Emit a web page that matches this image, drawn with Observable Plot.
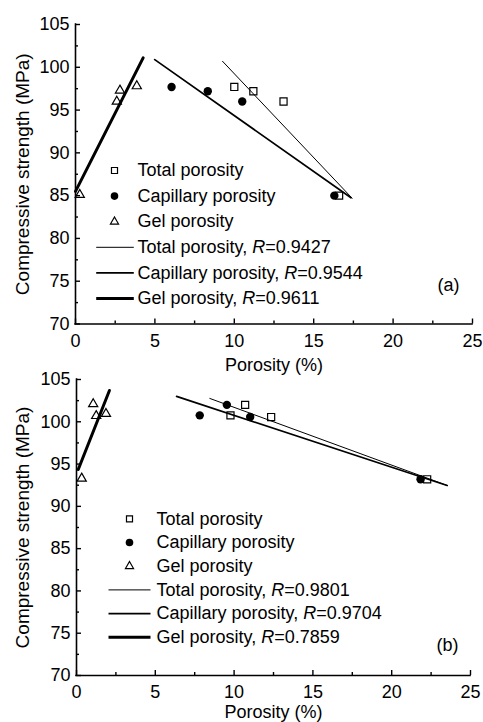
<!DOCTYPE html>
<html><head><meta charset="utf-8">
<script src="https://cdn.jsdelivr.net/npm/d3@7"></script>
<script src="https://cdn.jsdelivr.net/npm/@observablehq/plot@0.6"></script>
<style>
body{margin:0;background:#fff;}
#wrap{position:relative;width:483px;height:722px;overflow:hidden;background:#fff;}
.panel{position:absolute;left:0;width:483px;}
.panel svg{overflow:visible;}
</style></head><body><div id="wrap"></div>
<script>
// ---------- DATA ----------
const xTicks = [0, 5, 10, 15, 20, 25];
const xMinor = [2.5, 7.5, 12.5, 17.5, 22.5];
const yTicks = [70, 75, 80, 85, 90, 95, 100, 105];
const yMinor = [72.5, 77.5, 82.5, 87.5, 92.5, 97.5, 102.5];
const seriesNames = ["Total porosity", "Capillary porosity", "Gel porosity"];
const xLabel = "Porosity (%)";
const yLabel = "Compressive strength (MPa)";

// panel (a)
const aTotalX = [10.0, 11.2, 13.1, 16.6];
const aTotalY = [97.7, 97.2, 96.0, 85.0];
const aCapX = [6.05, 8.33, 10.5, 16.3];
const aCapY = [97.7, 97.2, 96.0, 85.0];
const aGelX = [0.27, 2.6, 2.8, 3.86];
const aGelY = [85.1, 96.0, 97.3, 97.8];
const aFitTotalX = [9.26, 17.42];
const aFitTotalY = [100.7, 84.7];
const aFitCapX = [4.99, 17.35];
const aFitCapY = [100.9, 84.75];
const aFitGelX = [0.0, 4.26];
const aFitGelY = [85.5, 101.1];
const aR = ["0.9427", "0.9544", "0.9611"];

// panel (b)
const bTotalX = [9.77, 10.7, 12.35, 22.25];
const bTotalY = [100.76, 102.0, 100.56, 93.2];
const bCapX = [7.82, 9.54, 11.02, 21.83];
const bCapY = [100.76, 102.0, 100.56, 93.2];
const bGelX = [0.33, 1.06, 1.25, 1.87];
const bGelY = [93.3, 102.1, 100.7, 100.95];
const bFitTotalX = [8.46, 23.52];
const bFitTotalY = [102.76, 92.47];
const bFitCapX = [6.35, 23.52];
const bFitCapY = [103.0, 92.47];
const bFitGelX = [0.11, 2.09];
const bFitGelY = [94.36, 103.7];
const bR = ["0.9801", "0.9704", "0.7859"];

// ---------- DRAWING ----------
const FONT = "'Liberation Sans', Arial, Helvetica, sans-serif";
const FS = 18;
const pts = (xs, ys) => xs.map((x, i) => ({x, y: ys[i]}));
const hline = (half) => ({draw(ctx) { ctx.moveTo(-half, 0); ctx.lineTo(half, 0); }});

function panel(cfg) {
  const W = 483, H = cfg.height;
  const {ml, mr, mt, mb} = cfg;
  const pw = W - ml - mr, ph = H - mt - mb;
  const at = (px, py) => ({frameAnchor: "top-left", dx: px - ml, dy: py - mt});
  const marks = [];
  // axis lines
  marks.push(Plot.ruleX([xTicks[0]], {stroke: "black", strokeWidth: 1.6, strokeLinecap: "square"}));
  marks.push(Plot.ruleY([yTicks[0]], {stroke: "black", strokeWidth: 1.6, strokeLinecap: "square"}));
  // inward ticks
  marks.push(Plot.tickX(xTicks, {x: d => d, insetTop: ph - 5, stroke: "black", strokeWidth: 1.4}));
  marks.push(Plot.tickX(xMinor, {x: d => d, insetTop: ph - 3, stroke: "black", strokeWidth: 1.4}));
  marks.push(Plot.tickY(yTicks, {y: d => d, insetRight: pw - 5, stroke: "black", strokeWidth: 1.4}));
  marks.push(Plot.tickY(yMinor, {y: d => d, insetRight: pw - 3, stroke: "black", strokeWidth: 1.4}));
  // tick labels
  marks.push(Plot.axisX({ticks: xTicks, tickSize: 0, tickPadding: 10, fontSize: FS, label: null, fill: "black"}));
  marks.push(Plot.axisY({ticks: yTicks, tickSize: 0, tickPadding: 6, fontSize: FS, label: null, fill: "black"}));
  // axis titles
  marks.push(Plot.text([xLabel], {frameAnchor: "bottom", dy: cfg.xLabelDy, text: d => d, fontSize: FS, textAnchor: "middle", lineAnchor: "middle", fill: "black"}));
  marks.push(Plot.text([yLabel], {frameAnchor: "left", dx: 22 - ml, rotate: -90, text: d => d, fontSize: 19, textAnchor: "middle", lineAnchor: "middle", fill: "black"}));
  // data points
  marks.push(Plot.dot(pts(cfg.totalX, cfg.totalY), {x: "x", y: "y", symbol: "square", r: 4, fill: "white", stroke: "black", strokeWidth: 1.2}));
  marks.push(Plot.dot(pts(cfg.capX, cfg.capY), {x: "x", y: "y", symbol: "circle", r: 4.2, fill: "black", stroke: "none"}));
  marks.push(Plot.dot(pts(cfg.gelX, cfg.gelY), {x: "x", y: "y", symbol: "triangle", r: 3.4, fill: "none", stroke: "black", strokeWidth: 1.2}));
  // fit lines
  marks.push(Plot.line(pts(cfg.fitTotalX, cfg.fitTotalY), {x: "x", y: "y", stroke: "black", strokeWidth: 1}));
  marks.push(Plot.line(pts(cfg.fitCapX, cfg.fitCapY), {x: "x", y: "y", stroke: "black", strokeWidth: 1.7}));
  marks.push(Plot.line(pts(cfg.fitGelX, cfg.fitGelY), {x: "x", y: "y", stroke: "black", strokeWidth: 3}));
  // legend
  const L = cfg.legend;
  const syms = [
    {symbol: "square", r: 3.4, fill: "white", stroke: "black", strokeWidth: 1.2},
    {symbol: "circle", r: 3.8, fill: "black", stroke: "none"},
    {symbol: "triangle", r: 3.0, fill: "none", stroke: "black", strokeWidth: 1.2}
  ];
  const lw = [1, 1.7, 3];
  seriesNames.forEach((name, i) => {
    marks.push(Plot.dot([0], {...at(L.mx, L.y0 + i * L.step), ...syms[i]}));
    marks.push(Plot.text([name], {...at(L.tx, L.y0 + i * L.step), text: d => d, textAnchor: "start", lineAnchor: "middle", fontSize: FS, fill: "black"}));
  });
  seriesNames.forEach((name, i) => {
    const row = i + 3;
    marks.push(Plot.dot([0], {...at(L.lc, L.y0 + row * L.step), symbol: hline(L.lh), stroke: "black", strokeWidth: lw[i], fill: "none"}));
    marks.push(Plot.text([`${name}, R=${cfg.R[i]}`], {...at(L.tx, L.y0 + row * L.step), text: d => d, textAnchor: "start", lineAnchor: "middle", fontSize: FS, fill: "black"}));
  });
  // panel tag
  marks.push(Plot.text([cfg.tag], {...at(cfg.tagX, cfg.tagY), text: d => d, textAnchor: "middle", lineAnchor: "middle", fontSize: FS, fill: "black"}));

  const svg = Plot.plot({
    width: W, height: H,
    marginLeft: ml, marginRight: mr, marginTop: mt, marginBottom: mb,
    x: {domain: [xTicks[0], xTicks[xTicks.length - 1]], label: null},
    y: {domain: [yTicks[0], yTicks[yTicks.length - 1]], label: null},
    style: {background: "transparent", fontFamily: FONT, fontSize: FS + "px", color: "black", overflow: "visible"},
    marks
  });
  // italic R in the regression legend entries
  svg.querySelectorAll("text").forEach(t => {
    const m = /^(.*), R=(.*)$/.exec(t.textContent);
    if (!m || t.children.length > 1) return;
    t.textContent = "";
    const ns = "http://www.w3.org/2000/svg";
    const a = document.createElementNS(ns, "tspan"); a.textContent = m[1] + ",\u00a0";
    const b = document.createElementNS(ns, "tspan"); b.textContent = "R"; b.setAttribute("font-style", "italic");
    const c = document.createElementNS(ns, "tspan"); c.textContent = "=" + m[2];
    t.append(a, b, c);
  });
  const div = document.createElement("div");
  div.className = "panel";
  div.style.top = cfg.top + "px";
  div.appendChild(svg);
  document.getElementById("wrap").appendChild(div);
}

panel({
  top: 0, height: 361, ml: 75, mr: 11, mt: 24, mb: 37.5, xLabelDy: 41,
  totalX: aTotalX, totalY: aTotalY, capX: aCapX, capY: aCapY, gelX: aGelX, gelY: aGelY,
  fitTotalX: aFitTotalX, fitTotalY: aFitTotalY, fitCapX: aFitCapX, fitCapY: aFitCapY,
  fitGelX: aFitGelX, fitGelY: aFitGelY, R: aR,
  legend: {mx: 114, tx: 137, y0: 170, step: 25.6, lc: 114.5, lh: 18.8},
  tag: "(a)", tagX: 448, tagY: 285
});
panel({
  top: 361, height: 361, ml: 76, mr: 13, mt: 18, mb: 47, xLabelDy: 37,
  totalX: bTotalX, totalY: bTotalY, capX: bCapX, capY: bCapY, gelX: bGelX, gelY: bGelY,
  fitTotalX: bFitTotalX, fitTotalY: bFitTotalY, fitCapX: bFitCapX, fitCapY: bFitCapY,
  fitGelX: bFitGelX, fitGelY: bFitGelY, R: bR,
  legend: {mx: 129, tx: 156, y0: 157.3, step: 23.7, lc: 129, lh: 21},
  tag: "(b)", tagX: 447, tagY: 284
});
</script></body></html>
